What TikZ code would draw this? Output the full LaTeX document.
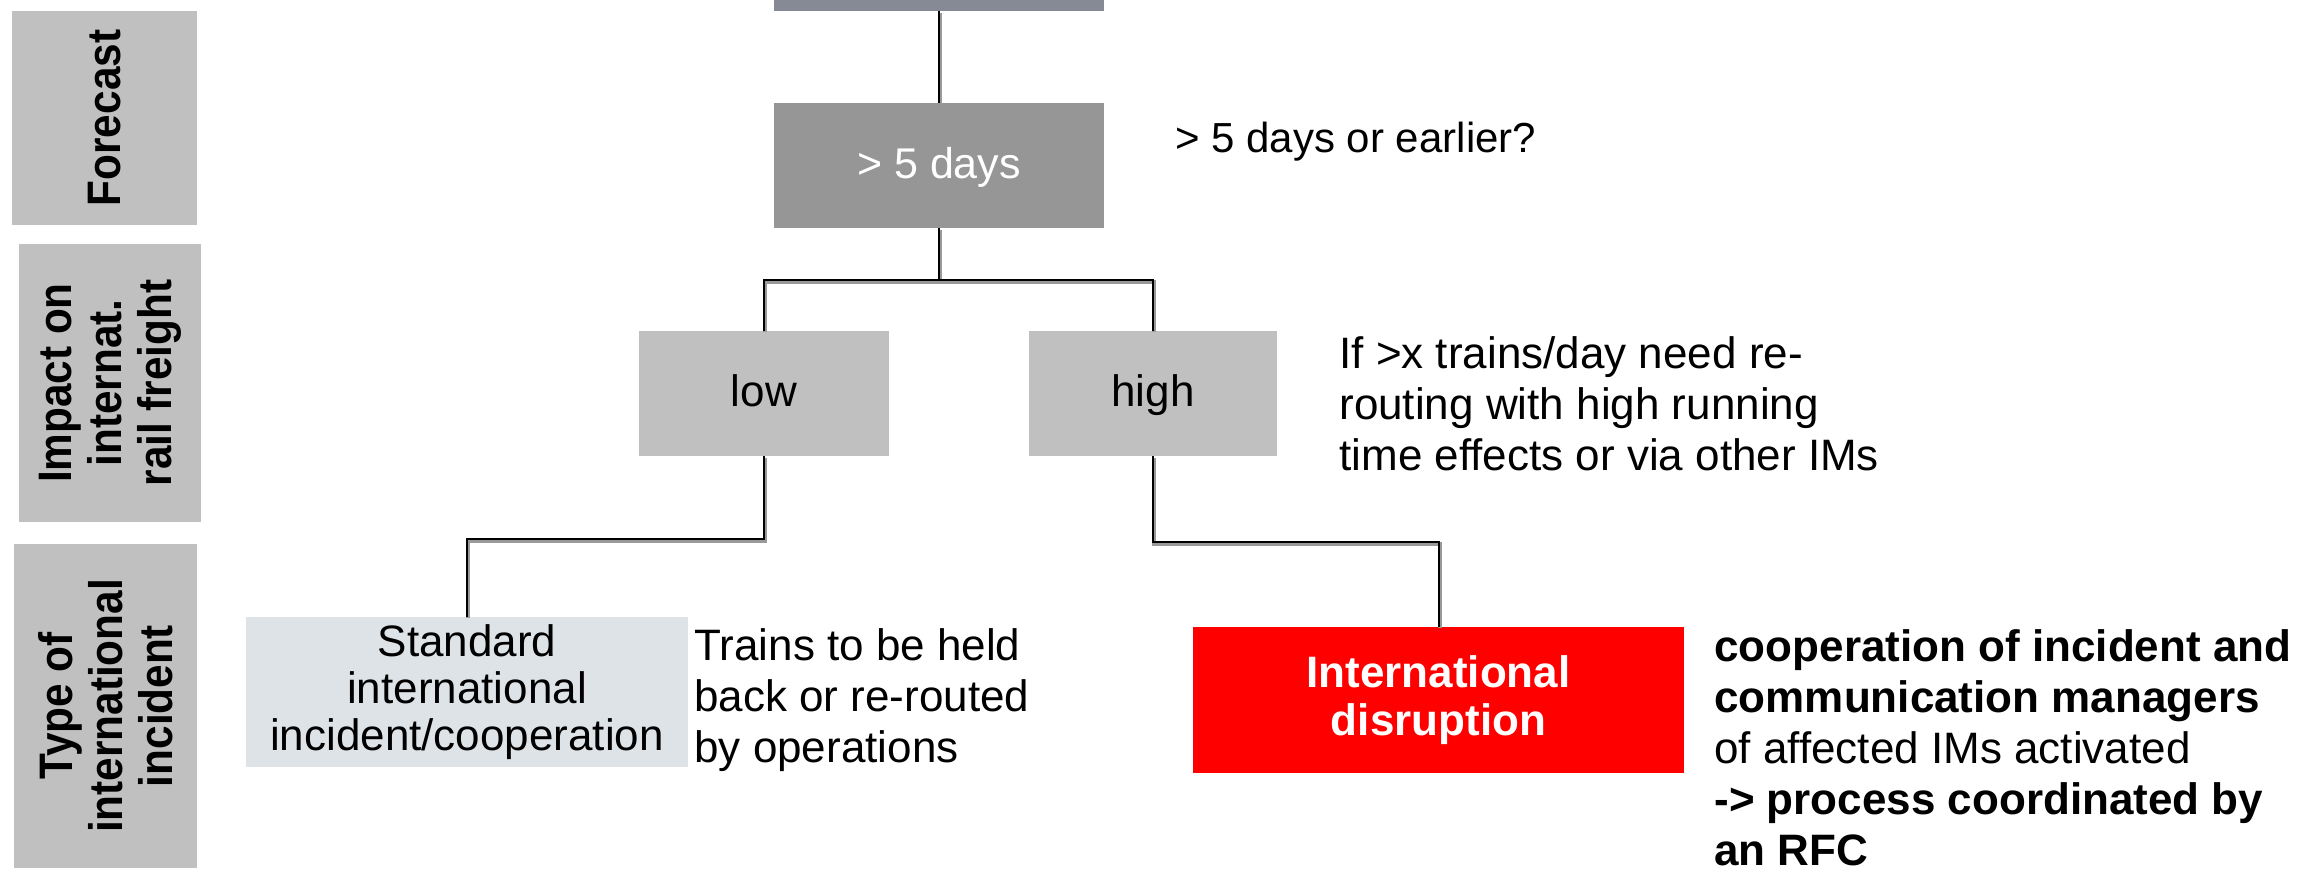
\documentclass[tikz,border=0pt]{standalone}
\usepackage{fontspec}
\setmainfont{Liberation Sans}
\newfontfamily\sidefont[FakeStretch=0.9]{Liberation Sans}
\usetikzlibrary{calc}

\definecolor{eventgray}{RGB}{134,138,148}
\definecolor{midgray}{RGB}{150,150,150}
\definecolor{boxgray}{RGB}{192,192,192}
\definecolor{paleblue}{RGB}{222,227,232}
\definecolor{alertred}{RGB}{255,0,0}

\begin{document}
\begin{tikzpicture}[x=0.5pt, y=-0.5pt,
  box/.style={rectangle, inner sep=0pt, draw=none, align=center},
  oneline/.style={text height=15.8pt, text depth=3.1pt},
  sidebox/.style={box, fill=boxgray, rotate=90,
    font=\sidefont\bfseries\fontsize{23.5}{25}\selectfont},
  conn/.style={draw=black, line width=1pt,
    preaction={draw=black!40, line width=2pt,
      transform canvas={shift={(0.6pt,-0.6pt)}}}},
  note/.style={inner sep=0pt, align=left, anchor=north west,
    font=\fontsize{22}{25.5}\selectfont},
]
\useasboundingbox (0,0) rectangle (2302,868);

% row headers
\node[sidebox, minimum width=107pt, minimum height=92.5pt] (forecast) at (104.5,118) {Forecast};
\node[sidebox, minimum width=139pt, minimum height=91pt] (impact) at (110,383) {Impact on\\internat.\\rail freight};
\node[sidebox, minimum width=162pt, minimum height=91.5pt] (type) at (105.5,706) {Type of\\international\\incident};

% decision tree
\node[box, fill=eventgray, minimum width=165pt, minimum height=62.5pt] (event) at (939,-51.5) {};
\node[box, oneline, fill=midgray, text=white, minimum width=165pt, minimum height=62.5pt,
  font=\fontsize{21.5}{24}\selectfont] (fivedays) at (939,165.5) {> 5 days};
\node[box, oneline, fill=boxgray, minimum width=125pt, minimum height=62.5pt,
  font=\fontsize{22}{24}\selectfont] (low) at (764,393.5) {low};
\node[box, oneline, fill=boxgray, minimum width=124pt, minimum height=62.5pt,
  font=\fontsize{22}{24}\selectfont] (high) at (1153,393.5) {high};
\node[box, fill=paleblue, minimum width=221pt, minimum height=75pt,
  font=\fontsize{22}{23.5}\selectfont] (standard) at (467,692)
  {Standard\\international\\incident/cooperation};
\node[box, fill=alertred, text=white, minimum width=245.5pt, minimum height=73pt,
  font=\bfseries\fontsize{22}{24}\selectfont] (disruption) at (1438.5,700)
  {International\\disruption};

% annotations
\node[note, anchor=base west, font=\fontsize{21}{25}\selectfont] (q1) at (1175,152) {> 5 days or earlier?};
\node[note] (q2) at (1339,336) {If >x trains/day need re-\\routing with high running\\time effects or via other IMs};
\node[note] (q3) at (694,628) {Trains to be held\\back or re-routed\\by operations};
\node[note] (q4) at (1714,629) {\textbf{cooperation of incident and}\\
  \textbf{communication managers}\\
  of affected IMs activated\\
  \textbf{-> process coordinated by}\\
  \textbf{an RFC}};

% connectors
\draw[conn] (event.south) -- (fivedays.north);
\draw[conn] (fivedays.south) -- ++(0,52) coordinate (split) -| (low.north);
\draw[conn] (split) -| (high.north);
\draw[conn] (low.south) -- ++(0,83) -| (standard.north);
\draw[conn] (high.south) -- ++(0,86) -| (disruption.north);
\end{tikzpicture}
\end{document}
